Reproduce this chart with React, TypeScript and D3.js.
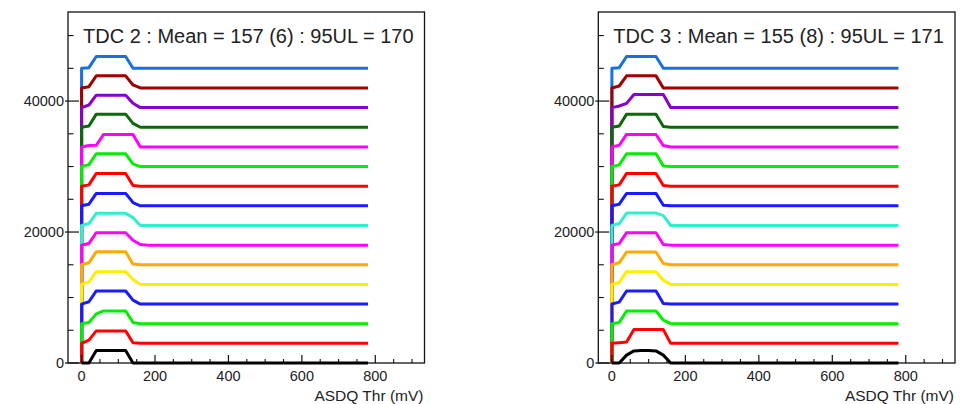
import React from 'react';
import * as d3 from 'd3';

// ASDQ thresholds (mV) at which each channel was sampled
const thresholds = [0, 20, 40, 60, 80, 100, 120, 140, 160, 180, 780];
// vertical offset of each channel's curve (bottom to top)
const offsets = [0, 3000, 6000, 9000, 12000, 15000, 18000, 21000, 24000, 27000, 30000, 33000, 36000, 39000, 42000, 45000];
const colors = ['#000000', '#ff0000', '#00ee00', '#1a1aff', '#ffee00', '#ffaa00', '#ff00ff', '#33eecc',
  '#1a1aff', '#ff0000', '#00ee00', '#ff00ff', '#0a6a0a', '#8800cc', '#a00000', '#1a6ee6'];

// counts per channel (bottom to top), TDC 2
const tdc2Counts = [
  [0, 0, 1900, 1900, 1900, 1900, 1900, 0, 0, 0, 0],
  [0, 500, 1900, 1900, 1900, 1900, 1900, 100, 0, 0, 0],
  [0, 200, 1500, 1950, 1950, 1950, 1950, 200, 0, 0, 0],
  [0, 350, 2000, 2000, 2000, 2000, 2000, 600, 0, 0, 0],
  [0, 400, 1950, 1950, 1950, 1950, 1950, 750, 0, 0, 0],
  [0, 300, 2000, 2000, 2000, 2000, 2000, 100, 0, 0, 0],
  [0, 250, 1900, 1900, 1900, 1900, 1900, 750, 100, 0, 0],
  [0, 300, 1850, 1850, 1850, 1850, 1850, 1200, 0, 0, 0],
  [0, 250, 1900, 1900, 1900, 1900, 1900, 500, 0, 0, 0],
  [0, 200, 1950, 1950, 1950, 1950, 1950, 100, 0, 0, 0],
  [0, 300, 1950, 1950, 1950, 1950, 1950, 400, 0, 0, 0],
  [0, 200, 250, 1900, 1900, 1900, 1900, 1900, 0, 0, 0],
  [0, 200, 2000, 2000, 2000, 2000, 2000, 600, 0, 0, 0],
  [0, 400, 1900, 1900, 1900, 1900, 1900, 660, 0, 0, 0],
  [0, 200, 1850, 1850, 1850, 1850, 1850, 460, 0, 0, 0],
  [0, 100, 1800, 1800, 1800, 1800, 1800, 0, 0, 0, 0],
];

// counts per channel (bottom to top), TDC 3
const tdc3Counts = [
  [0, 0, 1200, 1850, 1900, 1900, 1850, 1200, 0, 0, 0],
  [0, 100, 200, 2100, 2100, 2100, 2100, 2100, 0, 0, 0],
  [0, 200, 1950, 1950, 1950, 1950, 1950, 550, 0, 0, 0],
  [0, 300, 2000, 2000, 2000, 2000, 2000, 100, 0, 0, 0],
  [0, 300, 1950, 1950, 1950, 1950, 1950, 650, 0, 0, 0],
  [0, 300, 1950, 1950, 1950, 1950, 1950, 200, 0, 0, 0],
  [0, 250, 1900, 1900, 1900, 1900, 1900, 100, 0, 0, 0],
  [0, 300, 1900, 1900, 1900, 1900, 1900, 1500, 0, 0, 0],
  [0, 250, 1900, 1900, 1900, 1900, 1900, 100, 0, 0, 0],
  [0, 200, 1950, 1950, 1950, 1950, 1950, 100, 0, 0, 0],
  [0, 250, 1950, 1950, 1950, 1950, 1950, 100, 0, 0, 0],
  [0, 250, 1900, 1900, 1900, 1900, 1900, 200, 0, 0, 0],
  [0, 200, 2000, 2000, 2000, 2000, 2000, 100, 0, 0, 0],
  [0, 250, 650, 2000, 2000, 2000, 2000, 2000, 0, 0, 0],
  [0, 300, 1850, 1850, 1850, 1850, 1850, 0, 0, 0, 0],
  [0, 100, 1800, 1800, 1800, 1800, 1800, 0, 0, 0, 0],
];

const titles = ['TDC 2 : Mean = 157 (6) : 95UL = 170', 'TDC 3 : Mean = 155 (8) : 95UL = 171'];
const xMajorTicks = [0, 200, 400, 600, 800];
const xMinorTicks = [50, 100, 150, 250, 300, 350, 450, 500, 550, 650, 700, 750, 850, 900];
const yMajorTicks = [0, 20000, 40000];
const yMinorTicks = [5000, 10000, 15000, 25000, 30000, 35000, 45000, 50000];
const xDomain = [-37, 934];
const yDomain = [0, 53600];
const xTitle = 'ASDQ Thr (mV)';

const FONT = '"Liberation Sans", Arial, Helvetica, sans-serif';

type PanelProps = { fx0: number; fx1: number; counts: number[][]; title: string };

function Panel({ fx0, fx1, counts, title }: PanelProps) {
  const fy0 = 12;
  const fy1 = 363;
  const x = d3.scaleLinear().domain(xDomain).range([fx0, fx1]);
  const y = d3.scaleLinear().domain(yDomain).range([fy1, fy0]);
  const line = d3.line<[number, number]>().x(d => x(d[0])).y(d => y(d[1]));
  const order = d3.range(counts.length).reverse();
  return (
    <g>
      <rect x={fx0} y={fy0} width={fx1 - fx0} height={fy1 - fy0} fill="white" stroke="#111" strokeWidth={1.3} />
      {order.map(k => {
        const pts: [number, number][] = [[0, 0], ...thresholds.map((t, i) => [t, offsets[k] + counts[k][i]] as [number, number])];
        return <path key={k} d={line(pts) || ''} fill="none" stroke={colors[k]} strokeWidth={3} strokeLinejoin="round" />;
      })}
      {yMajorTicks.map(v => (
        <g key={'ym' + v}>
          <line x1={fx0 - 3} x2={fx0 + 11} y1={y(v)} y2={y(v)} stroke="#111" strokeWidth={1.2} />
          <text x={fx0 - 4} y={y(v) + 5} textAnchor="end" fontSize={14.5} fontFamily={FONT} fill="#222">{v}</text>
        </g>
      ))}
      {yMinorTicks.map(v => (
        <line key={'yn' + v} x1={fx0} x2={fx0 + 5.5} y1={y(v)} y2={y(v)} stroke="#111" strokeWidth={1.1} />
      ))}
      {xMajorTicks.map(v => (
        <g key={'xm' + v}>
          <line x1={x(v)} x2={x(v)} y1={fy1} y2={fy1 - 8} stroke="#111" strokeWidth={1.2} />
          <text x={x(v)} y={381} textAnchor="middle" fontSize={14.5} fontFamily={FONT} fill="#222">{v}</text>
        </g>
      ))}
      {xMinorTicks.map(v => (
        <line key={'xn' + v} x1={x(v)} x2={x(v)} y1={fy1} y2={fy1 - 4} stroke="#111" strokeWidth={1.1} />
      ))}
      <text x={fx1 - 1} y={400.5} textAnchor="end" fontSize={15.5} fontFamily={FONT} fill="#222">{xTitle}</text>
      <text x={fx0 + 15} y={42.5} fontSize={20} fontFamily={FONT} fill="#222">{title}</text>
    </g>
  );
}

export default function App() {
  return (
    <svg width={977} height={404} style={{ position: 'absolute', left: 0, top: 0, background: 'white' }}>
      <rect x={0} y={0} width={977} height={404} fill="white" />
      <Panel fx0={68} fx1={424.5} counts={tdc2Counts} title={titles[0]} />
      <Panel fx0={598.3} fx1={955} counts={tdc3Counts} title={titles[1]} />
    </svg>
  );
}
